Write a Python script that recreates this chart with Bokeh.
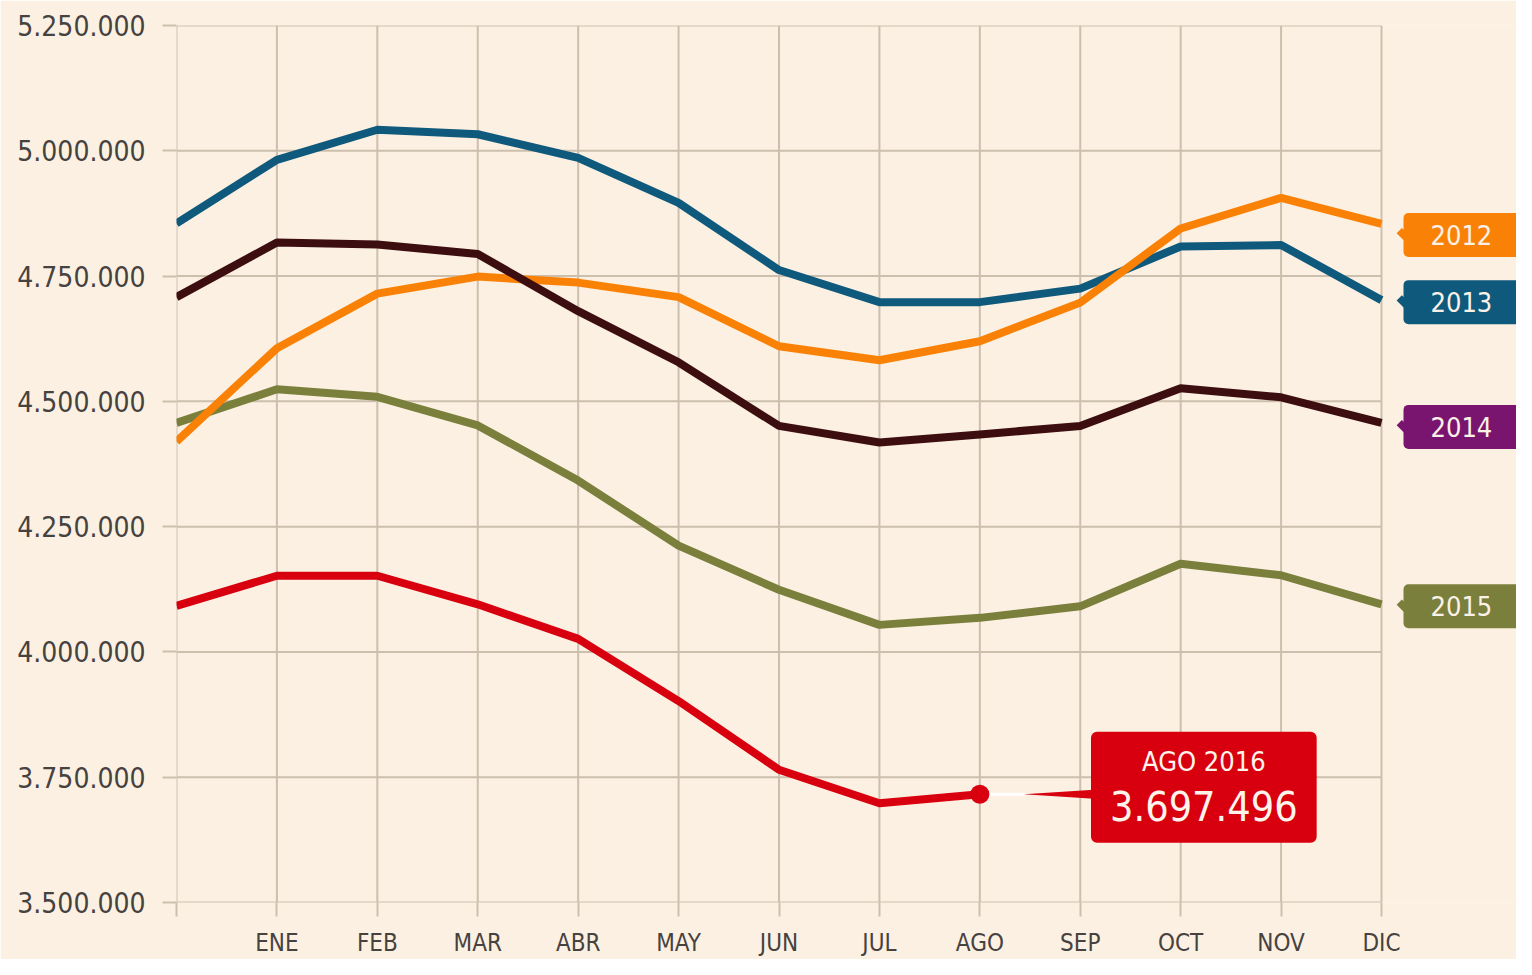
from bokeh.plotting import figure
from bokeh.models import Range1d, FixedTicker, Label
from bokeh.embed import file_html
from bokeh.resources import INLINE
import math

# ---------------- data ----------------
MONTHS = ["", "ENE", "FEB", "MAR", "ABR", "MAY", "JUN", "JUL", "AGO", "SEP", "OCT", "NOV", "DIC"]
Y_TICKS = [3500000, 3750000, 4000000, 4250000, 4500000, 4750000, 5000000, 5250000]

v2012 = [4420000, 4606000, 4715000, 4749000, 4737000, 4708000, 4610000, 4582000, 4620000, 4697000, 4845000, 4906000, 4854000]
v2013 = [4855000, 4982000, 5042000, 5033000, 4986000, 4896000, 4762000, 4698000, 4698000, 4725000, 4809000, 4812000, 4702000]
v2014 = [4708000, 4817000, 4813000, 4794000, 4680000, 4578000, 4451000, 4418000, 4434000, 4451000, 4526000, 4508000, 4457000]
v2015 = [4457000, 4524000, 4509000, 4452000, 4342000, 4212000, 4124000, 4054000, 4068000, 4091000, 4176000, 4153000, 4095000]
v2016 = [4092000, 4152000, 4152000, 4095000, 4026000, 3902000, 3765000, 3698000, 3716000]

TAG_NAMES = ["2012", "2013", "2014", "2015"]
CALLOUT_TITLE = "AGO 2016"
CALLOUT_VALUE = "3.697.496"

# ---------------- style ----------------
BG = "#FCF0E2"
GRID = "#CDBFAD"
TXT = "#46423F"
FONT = "'DejaVu Sans Condensed', sans-serif"
C2012 = "#F98206"
C2013 = "#0F5A7C"
C2014 = "#3D0E10"
C2015 = "#7A7F3C"
C2016 = "#D8000F"
TAG_COLORS = [C2012, C2013, "#7A156F", C2015]
TAG_DY = [-11, -2, -4, -2]

W, H = 1516, 959
LEFT, RIGHT_DIC, TOP, BOTTOM = 176, 1381, 25, 903
N = len(MONTHS) - 1
px_per_x = (RIGHT_DIC - LEFT) / N
x_end = N + (W - RIGHT_DIC) / px_per_x

p = figure(width=W, height=H,
           x_range=Range1d(0, x_end), y_range=Range1d(Y_TICKS[0], Y_TICKS[-1]),
           output_backend="svg", toolbar_location=None,
           min_border_left=LEFT, min_border_right=0, min_border_top=TOP, min_border_bottom=H - BOTTOM,
           background_fill_color=BG, border_fill_color=BG, outline_line_color=None)

# axes
p.xaxis.ticker = FixedTicker(ticks=list(range(len(MONTHS))))
p.xaxis.major_label_overrides = {i: m for i, m in enumerate(MONTHS)}
p.yaxis.ticker = FixedTicker(ticks=Y_TICKS)
p.yaxis.major_label_overrides = {t: f"{t:,}".replace(",", ".") for t in Y_TICKS}

for ax in (p.xaxis[0], p.yaxis[0]):
    ax.axis_line_color = None
    ax.major_tick_in = 0
    ax.major_tick_out = 14
    ax.major_tick_line_color = GRID
    ax.major_tick_line_width = 2
    ax.minor_tick_line_color = None
    ax.major_label_text_color = TXT
    ax.major_label_text_font = FONT
p.xaxis.major_label_text_font_size = "24px"
p.xaxis.major_label_standoff = 12
p.yaxis.major_label_text_font_size = "28px"
p.yaxis.major_label_standoff = 17

# grid drawn only across the month span
p.grid.grid_line_color = None
xs = list(range(len(MONTHS)))
p.segment(x0=[0] * len(Y_TICKS), x1=[N] * len(Y_TICKS), y0=Y_TICKS, y1=Y_TICKS,
          line_color=GRID, line_width=2)
p.segment(x0=xs, x1=xs, y0=[Y_TICKS[0]] * len(xs), y1=[Y_TICKS[-1]] * len(xs),
          line_color=GRID, line_width=2)

# lines
series = [(v2015, C2015), (v2013, C2013), (v2012, C2012), (v2014, C2014), (v2016, C2016)]
for vals, col in series:
    p.line(list(range(len(vals))), vals, line_width=8, line_color=col, line_join="round")

# callout connector + dot
ia = len(v2016) - 1
va = v2016[ia]
p.segment(x0=[ia + 0.1], y0=[va], x1=[ia + 0.45], y1=[va], line_color="white", line_width=3)
p.wedge(x=[ia + 44 / px_per_x], y=[va], radius=70, radius_units="screen",
        start_angle=-0.065, end_angle=0.065, fill_color=C2016, line_color=None)
p.scatter([ia], [va], size=19, fill_color=C2016, line_color=None)

# callout box
p.add_layout(Label(x=ia, y=va, x_offset=224, y_offset=7, text=CALLOUT_VALUE,
                   text_align="center", text_baseline="middle",
                   text_font=FONT, text_font_size="41px", text_color="#FFF4EC",
                   background_fill_color=C2016, background_fill_alpha=1.0,
                   border_radius=6,
                   padding=dict(left=19, right=19, top=59, bottom=22)))
p.add_layout(Label(x=ia, y=va, x_offset=224, y_offset=33, text=CALLOUT_TITLE,
                   text_align="center", text_baseline="middle",
                   text_font=FONT, text_font_size="27px", text_color="#FFF4EC"))

# right-hand year tags
last_vals = [v2012[-1], v2013[-1], v2014[-1], v2015[-1]]
for name, lv, col, dy in zip(TAG_NAMES, last_vals, TAG_COLORS, TAG_DY):
    p.add_layout(Label(x=N, y=lv, x_offset=22, y_offset=dy, text=name,
                       text_align="left", text_baseline="middle",
                       text_font=FONT, text_font_size="27px", text_color="#FBF1E6",
                       background_fill_color=col, background_fill_alpha=1.0,
                       border_radius=5,
                       padding=dict(left=27, right=40, top=12, bottom=12)))
    p.add_layout(Label(x=N, y=lv, x_offset=22, y_offset=dy, text=" ",
                       text_align="center", text_baseline="middle", text_font_size="5px",
                       angle=math.pi / 4, background_fill_color=col, background_fill_alpha=1.0,
                       padding=3))

html = file_html(p, INLINE)
html = html.replace("<body>", f'<body style="background-color:{BG};">', 1)
open("out.html", "w").write(html)
